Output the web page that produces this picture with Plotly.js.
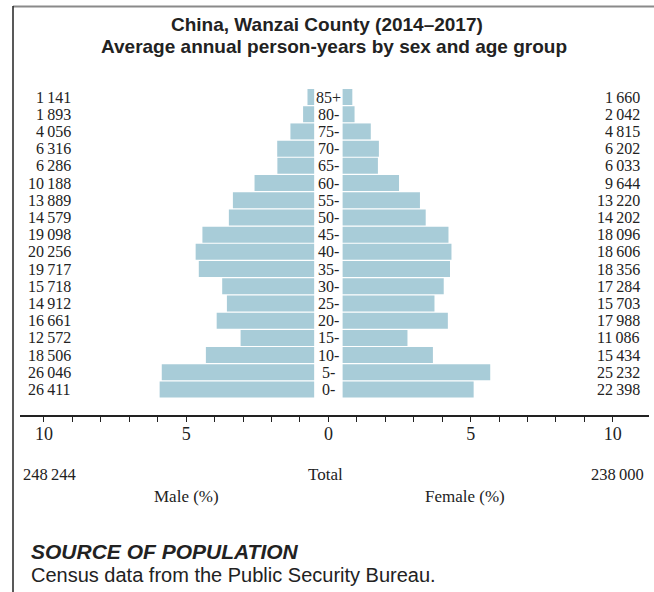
<!DOCTYPE html>
<html>
<head>
<meta charset="utf-8">
<script src="https://cdn.plot.ly/plotly-3.0.1.min.js"></script>
<style>html,body{margin:0;padding:0;background:#fff;}#chart{width:654px;height:592px;}</style>
</head>
<body>
<div id="chart"></div>
<script>
// ---- data ----
const ages = ['0-','5-','10-','15-','20-','25-','30-','35-','40-','45-','50-','55-','60-','65-','70-','75-','80-','85+'];
const maleCounts = [26411, 26046, 18506, 12572, 16661, 14912, 15718, 19717, 20256, 19098, 14579, 13889, 10188, 6286, 6316, 4056, 1893, 1141];
const femaleCounts = [22398, 25232, 15434, 11086, 17988, 15703, 17284, 18356, 18606, 18096, 14202, 13220, 9644, 6033, 6202, 4815, 2042, 1660];
const totalMale = 248244;
const totalFemale = 238000;
const tickValues = [-10,-9,-8,-7,-6,-5,-4,-3,-2,-1,0,1,2,3,4,5,6,7,8,9,10];
const tickLabelValues = [-10,-5,0,5,10];

// ---- derived ----
const grand = totalMale + totalFemale;
const GAP = 0.5;
const idx = ages.map((_, i) => i);
const malePct = maleCounts.map(v => v / grand * 100);
const femalePct = femaleCounts.map(v => v / grand * 100);
const fmt = n => String(n).replace(/\B(?=(\d{3})+(?!\d))/g, '\u2009');

const W = 654, H = 592;
const M = {l: 20, r: 5, t: 80, b: 177};
const PW = W - M.l - M.r, PH = H - M.t - M.b;
const px = x => (x - M.l) / PW;
const py = y => (M.t + PH - y) / PH;

const serif = 'Liberation Serif, Times New Roman, serif';
const sans = 'Liberation Sans, Arial, sans-serif';
const ink = '#222';
const barColor = '#a8ccd8';

const traces = [
  {type: 'bar', orientation: 'h', y: idx, x: malePct.map(v => -v), base: -GAP,
   width: 0.93, marker: {color: barColor, line: {width: 0}}, hoverinfo: 'skip'},
  {type: 'bar', orientation: 'h', y: idx, x: femalePct, base: GAP,
   width: 0.93, marker: {color: barColor, line: {width: 0}}, hoverinfo: 'skip'}
];

const ann = [];
ages.forEach((a, i) => {
  ann.push({xref: 'x', yref: 'y', x: 0, y: i, text: a, showarrow: false,
    xanchor: 'center', yanchor: 'middle', font: {family: serif, size: 16, color: ink}});
  ann.push({xref: 'paper', yref: 'y', x: px(73), y: i, text: fmt(maleCounts[i]), showarrow: false,
    xanchor: 'right', yanchor: 'middle', font: {family: serif, size: 16, color: ink}});
  ann.push({xref: 'paper', yref: 'y', x: px(642), y: i, text: fmt(femaleCounts[i]), showarrow: false,
    xanchor: 'right', yanchor: 'middle', font: {family: serif, size: 16, color: ink}});
});
// bottom labels
const bf = {family: serif, size: 16.5, color: ink};
ann.push({xref: 'paper', yref: 'paper', x: px(21), y: py(474), text: fmt(totalMale), showarrow: false,
  xanchor: 'left', yanchor: 'middle', font: bf});
ann.push({xref: 'x', yref: 'paper', x: -0.1, y: py(474), text: 'Total', showarrow: false,
  xanchor: 'center', yanchor: 'middle', font: {family: serif, size: 17, color: ink}});
ann.push({xref: 'paper', yref: 'paper', x: px(646), y: py(474), text: fmt(totalFemale), showarrow: false,
  xanchor: 'right', yanchor: 'middle', font: bf});
ann.push({xref: 'x', yref: 'paper', x: -5, y: py(496), text: 'Male (%)', showarrow: false,
  xanchor: 'center', yanchor: 'middle', font: {family: serif, size: 17, color: ink}});
ann.push({xref: 'x', yref: 'paper', x: 4.8, y: py(496), text: 'Female (%)', showarrow: false,
  xanchor: 'center', yanchor: 'middle', font: {family: serif, size: 17, color: ink}});
// titles
ann.push({xref: 'paper', yref: 'paper', x: px(327), y: py(24), text: '<b>China, Wanzai County (2014–2017)</b>', showarrow: false,
  xanchor: 'center', yanchor: 'middle', font: {family: sans, size: 19, color: ink}});
ann.push({xref: 'paper', yref: 'paper', x: px(334), y: py(47), text: '<b>Average annual person-years by sex and age group</b>', showarrow: false,
  xanchor: 'center', yanchor: 'middle', font: {family: sans, size: 19, color: ink}});
// source
ann.push({xref: 'paper', yref: 'paper', x: px(29), y: py(551), text: '<b><i>SOURCE OF POPULATION</i></b>', showarrow: false,
  xanchor: 'left', yanchor: 'middle', font: {family: sans, size: 21, color: ink}});
ann.push({xref: 'paper', yref: 'paper', x: px(29), y: py(575), text: 'Census data from the Public Security Bureau.', showarrow: false,
  xanchor: 'left', yanchor: 'middle', font: {family: sans, size: 20, color: ink}});

const shapes = [
  {type: 'line', xref: 'paper', yref: 'paper', x0: px(13), x1: px(654), y0: py(6.5), y1: py(6.5),
   line: {color: '#8a8a8a', width: 2}},
  {type: 'line', xref: 'paper', yref: 'paper', x0: px(13), x1: px(13), y0: py(6), y1: py(592),
   line: {color: '#222', width: 1.5}}
];

const layout = {
  width: W, height: H, margin: M,
  paper_bgcolor: '#fff', plot_bgcolor: '#fff',
  showlegend: false, barmode: 'overlay',
  xaxis: {
    range: [-10.84, 11.27], showgrid: false, zeroline: false,
    showline: true, linecolor: ink, linewidth: 1.5,
    ticks: 'outside', ticklen: 5, tickcolor: ink, tickwidth: 1,
    tickmode: 'array', tickvals: tickValues,
    ticktext: tickValues.map(v => tickLabelValues.includes(v) ? String(Math.abs(v)) : ''),
    tickfont: {family: serif, size: 18, color: ink}, ticklabelstandoff: -3, fixedrange: true
  },
  yaxis: {
    range: [-1.483, 17.99], showgrid: false, zeroline: false, showline: false,
    showticklabels: false, ticks: '', fixedrange: true
  },
  annotations: ann, shapes: shapes
};

Plotly.newPlot('chart', traces, layout, {displayModeBar: false, staticPlot: true});
</script>
</body>
</html>
